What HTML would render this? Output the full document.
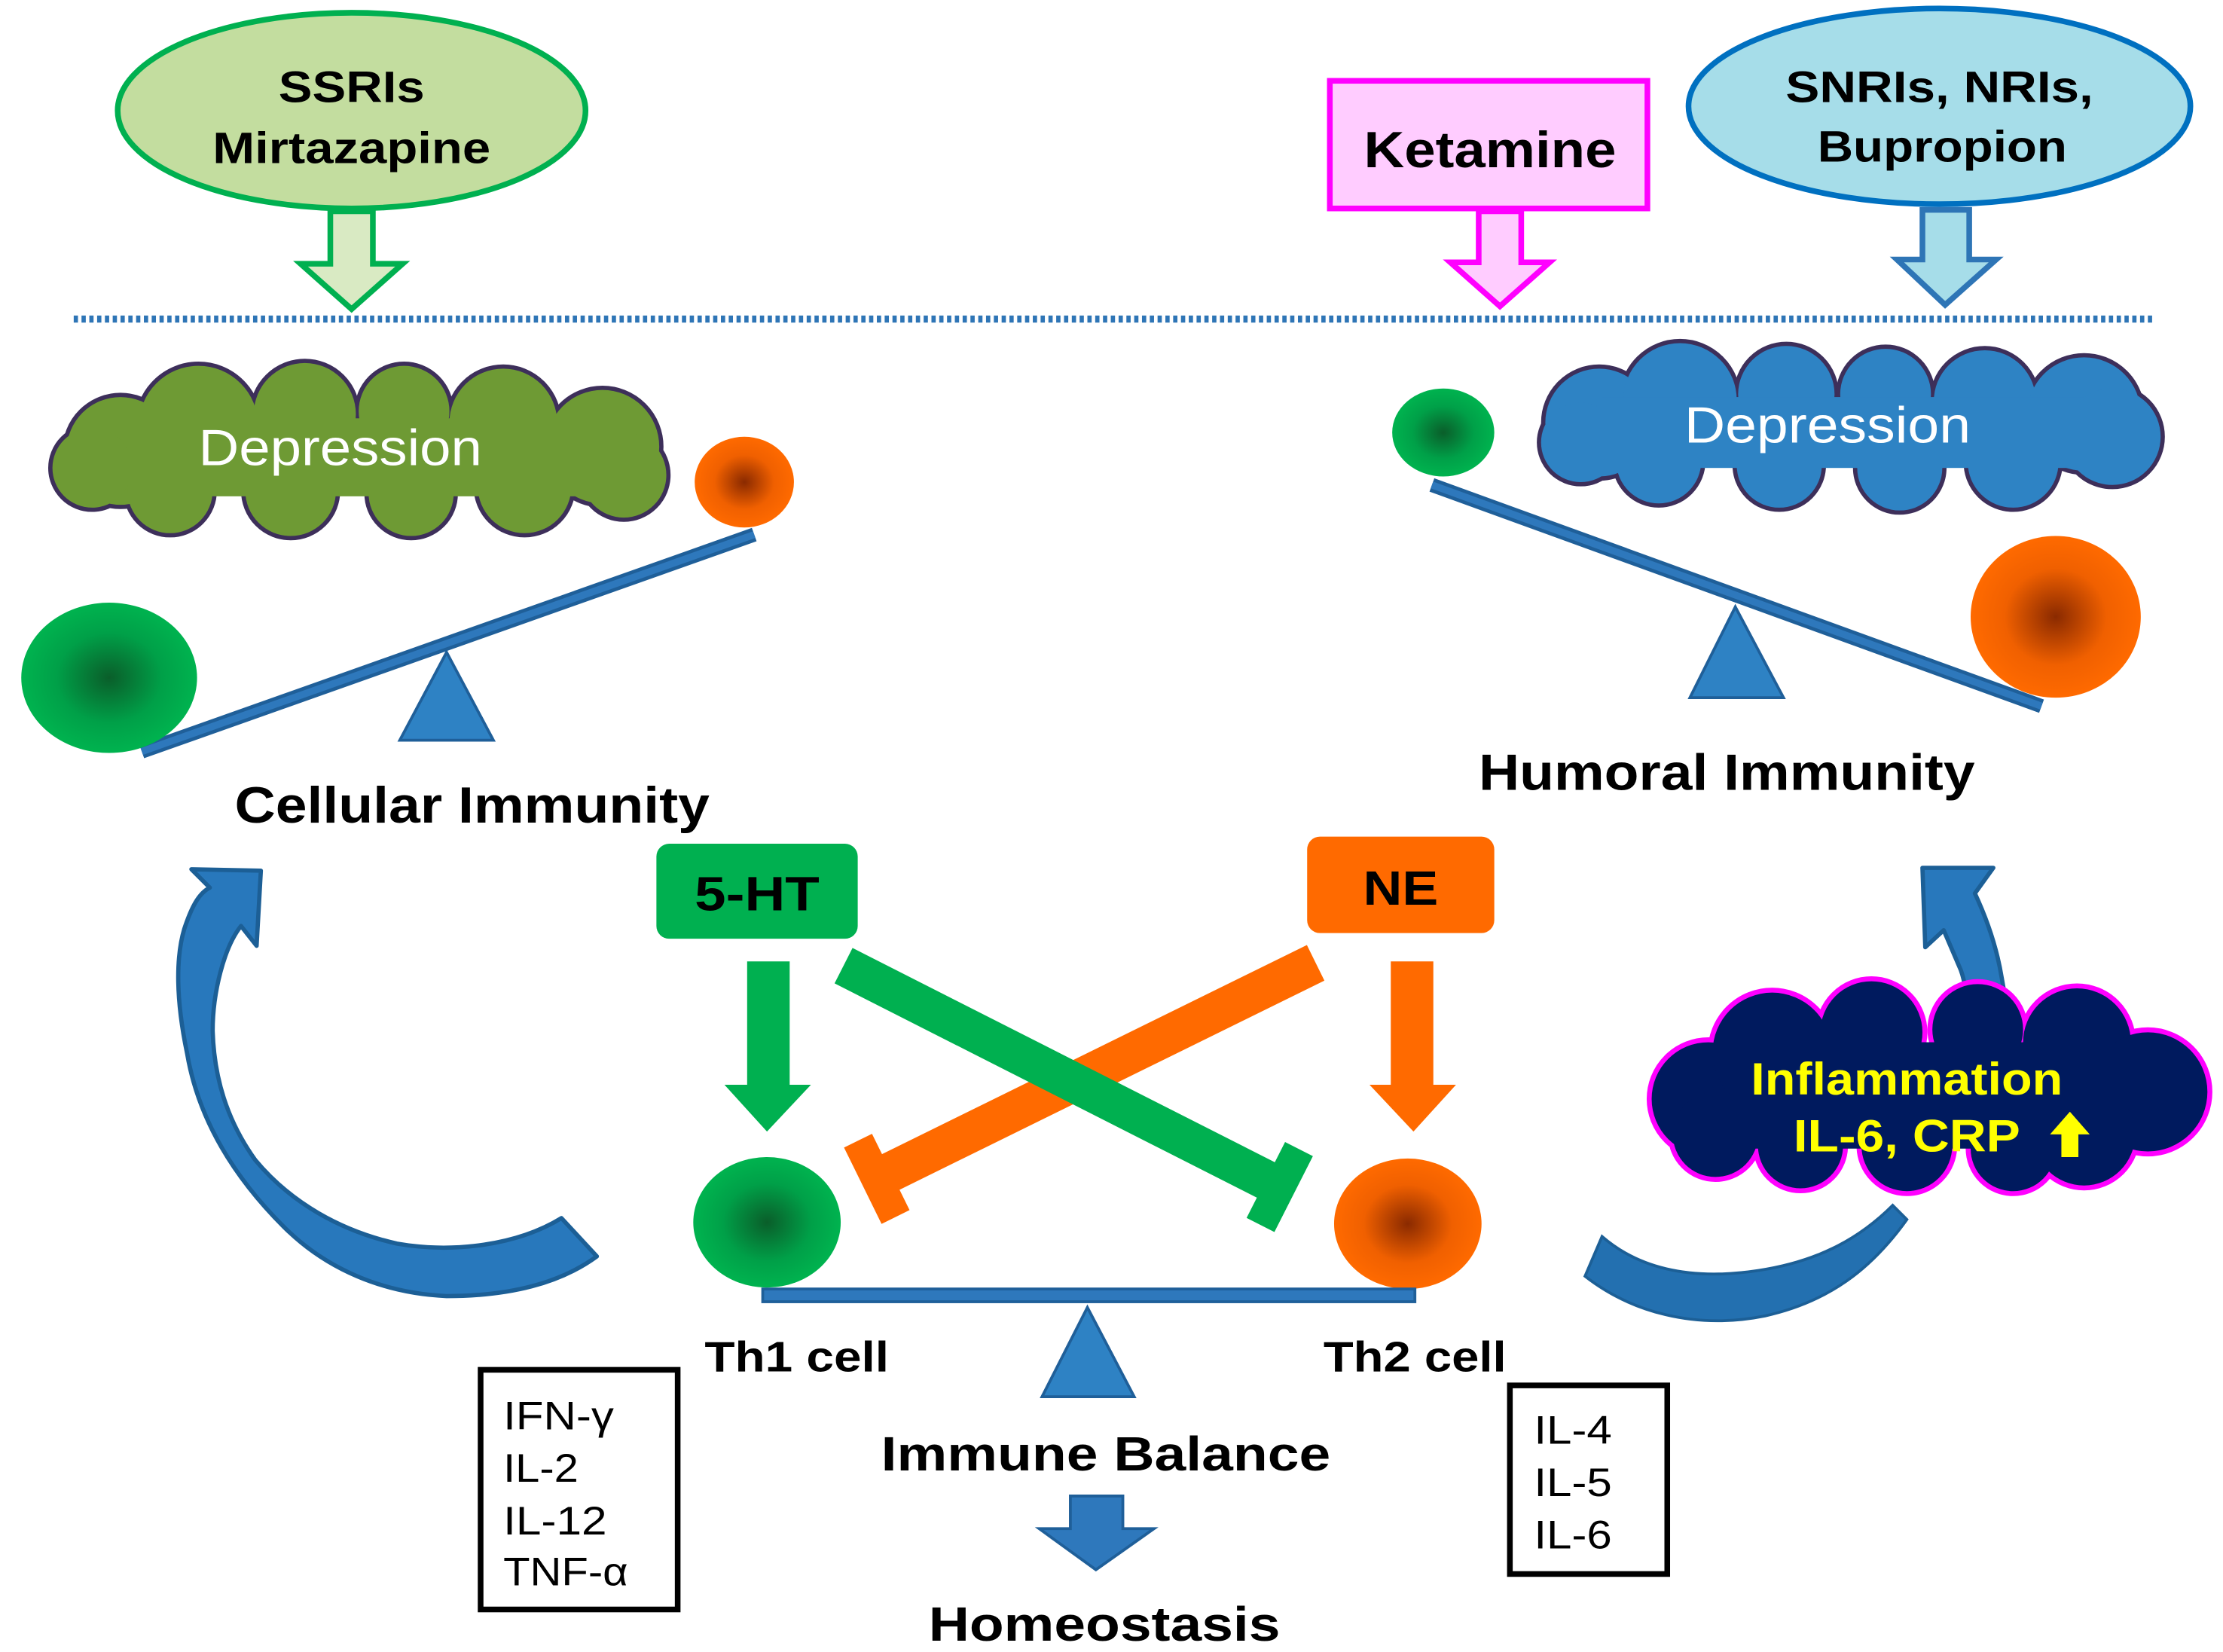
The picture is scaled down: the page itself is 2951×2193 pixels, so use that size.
<!DOCTYPE html>
<html><head><meta charset="utf-8"><style>
html,body{margin:0;padding:0;background:#fff;}
svg{display:block;}
text{font-family:"Liberation Sans",Arial,sans-serif;}
</style></head><body>
<svg width="2951" height="2193" viewBox="0 0 1568 1165" preserveAspectRatio="none" xmlns="http://www.w3.org/2000/svg">
<defs>
<radialGradient id="gG"><stop offset="0" stop-color="#0a5e2a"/><stop offset="0.6" stop-color="#00a048"/><stop offset="1" stop-color="#00b34f"/></radialGradient>
<radialGradient id="gO"><stop offset="0" stop-color="#8a2a00"/><stop offset="0.6" stop-color="#f06000"/><stop offset="1" stop-color="#ff6a00"/></radialGradient>
</defs>
<rect width="1568" height="1165" fill="#fff"/>

<!-- top drug nodes -->
<ellipse cx="248" cy="78" rx="165" ry="69" fill="#c3dd9f" stroke="#00b050" stroke-width="4"/>
<text x="248" y="72" font-size="31" font-weight="bold" text-anchor="middle" textLength="103" lengthAdjust="spacingAndGlyphs">SSRIs</text>
<text x="248" y="115" font-size="31" font-weight="bold" text-anchor="middle" textLength="196" lengthAdjust="spacingAndGlyphs">Mirtazapine</text>
<path d="M233 149 H263 V186 H284 L248 218 L212 186 H233 Z" fill="#d9eac3" stroke="#00b050" stroke-width="4" stroke-linejoin="miter"/>

<rect x="938" y="57" width="224" height="90" fill="#ffccff" stroke="#ff00ff" stroke-width="4"/>
<text x="1051" y="118" font-size="36" font-weight="bold" text-anchor="middle" textLength="178" lengthAdjust="spacingAndGlyphs">Ketamine</text>
<path d="M1043 149 H1073 V185 H1093 L1058 216 L1023 185 H1043 Z" fill="#ffccff" stroke="#ff00ff" stroke-width="4"/>

<ellipse cx="1368" cy="75" rx="177" ry="69" fill="#a6dde9" stroke="#0070c0" stroke-width="4"/>
<text x="1368" y="72" font-size="31" font-weight="bold" text-anchor="middle" textLength="217" lengthAdjust="spacingAndGlyphs">SNRIs, NRIs,</text>
<text x="1370" y="114" font-size="31" font-weight="bold" text-anchor="middle" textLength="176" lengthAdjust="spacingAndGlyphs">Bupropion</text>
<path d="M1356 148 H1389 V183 H1408 L1372 215 L1338 183 H1356 Z" fill="#a6dde9" stroke="#2e75b6" stroke-width="4"/>

<line x1="52" y1="225" x2="1520" y2="225" stroke="#2e75b6" stroke-width="5" stroke-dasharray="3 2.5"/>

<!-- green cloud -->
<g stroke="#3d2f5a" stroke-width="6" fill="#6e9a34">
<circle cx="85" cy="318" r="38"/><circle cx="140" cy="300" r="42"/><circle cx="215" cy="292" r="36"/><circle cx="285" cy="290" r="32"/><circle cx="355" cy="298" r="38"/><circle cx="425" cy="315" r="40"/><circle cx="440" cy="335" r="30"/><circle cx="370" cy="343" r="33"/><circle cx="290" cy="348" r="30"/><circle cx="205" cy="346" r="32"/><circle cx="120" cy="346" r="30"/><circle cx="65" cy="330" r="28"/>
</g>
<g fill="#6e9a34">
<circle cx="85" cy="318" r="38"/><circle cx="140" cy="300" r="42"/><circle cx="215" cy="292" r="36"/><circle cx="285" cy="290" r="32"/><circle cx="355" cy="298" r="38"/><circle cx="425" cy="315" r="40"/><circle cx="440" cy="335" r="30"/><circle cx="370" cy="343" r="33"/><circle cx="290" cy="348" r="30"/><circle cx="205" cy="346" r="32"/><circle cx="120" cy="346" r="30"/><circle cx="65" cy="330" r="28"/>
<rect x="90" y="295" width="340" height="55"/>
</g>
<text x="240" y="328" font-size="36" fill="#fff" text-anchor="middle" textLength="200" lengthAdjust="spacingAndGlyphs">Depression</text>

<!-- blue cloud -->
<g stroke="#3d2f5a" stroke-width="6" fill="#2e83c4">
<circle cx="1128" cy="298" r="38"/><circle cx="1185" cy="282" r="40"/><circle cx="1260" cy="278" r="34"/><circle cx="1330" cy="278" r="32"/><circle cx="1400" cy="283" r="36"/><circle cx="1470" cy="292" r="40"/><circle cx="1490" cy="308" r="34"/><circle cx="1420" cy="326" r="32"/><circle cx="1340" cy="330" r="30"/><circle cx="1255" cy="328" r="30"/><circle cx="1170" cy="325" r="30"/><circle cx="1115" cy="312" r="28"/>
</g>
<g fill="#2e83c4">
<circle cx="1128" cy="298" r="38"/><circle cx="1185" cy="282" r="40"/><circle cx="1260" cy="278" r="34"/><circle cx="1330" cy="278" r="32"/><circle cx="1400" cy="283" r="36"/><circle cx="1470" cy="292" r="40"/><circle cx="1490" cy="308" r="34"/><circle cx="1420" cy="326" r="32"/><circle cx="1340" cy="330" r="30"/><circle cx="1255" cy="328" r="30"/><circle cx="1170" cy="325" r="30"/><circle cx="1115" cy="312" r="28"/>
<rect x="1130" y="280" width="340" height="50"/>
</g>
<text x="1289" y="312" font-size="36" fill="#fff" text-anchor="middle" textLength="202" lengthAdjust="spacingAndGlyphs">Depression</text>

<!-- left seesaw -->
<polygon points="315,460 282,522 348,522" fill="#2e82c4" stroke="#1f5f99" stroke-width="2"/>
<line x1="100" y1="530" x2="532" y2="377" stroke="#1f5f99" stroke-width="10"/>
<line x1="100" y1="530" x2="532" y2="377" stroke="#2e78bc" stroke-width="5"/>
<ellipse cx="77" cy="478" rx="62" ry="53" fill="url(#gG)"/>
<ellipse cx="525" cy="340" rx="35" ry="32" fill="url(#gO)"/>
<text x="333" y="580" font-size="36" font-weight="bold" text-anchor="middle" textLength="335" lengthAdjust="spacingAndGlyphs">Cellular Immunity</text>

<!-- right seesaw -->
<polygon points="1224,428 1192,492 1258,492" fill="#2e82c4" stroke="#1f5f99" stroke-width="2"/>
<line x1="1010" y1="342" x2="1440" y2="498" stroke="#1f5f99" stroke-width="10"/>
<line x1="1010" y1="342" x2="1440" y2="498" stroke="#2e78bc" stroke-width="5"/>
<ellipse cx="1018" cy="305" rx="36" ry="31" fill="url(#gG)"/>
<ellipse cx="1450" cy="435" rx="60" ry="57" fill="url(#gO)"/>
<text x="1218" y="557" font-size="36" font-weight="bold" text-anchor="middle" textLength="350" lengthAdjust="spacingAndGlyphs">Humoral Immunity</text>

<!-- left curved arrow -->
<path d="M135,613 L184,614 L181,667 L170,653 C158,668 150,700 150,727 C151,760 160,790 180,818 C205,848 240,868 280,877 C320,884 365,878 396,859 L421,886 C395,905 360,914 315,914 C270,912 230,895 200,865 C165,830 140,790 132,743 C124,705 124,675 130,655 C135,640 140,630 148,626 Z" fill="#2878bc" stroke="#1c5f96" stroke-width="3" stroke-linejoin="round"/>

<!-- right curved arrow lower -->
<path d="M1130,872 C1160,898 1200,902 1240,896 C1280,890 1310,875 1335,850 L1345,860 C1320,895 1290,918 1245,928 C1195,938 1150,925 1118,900 Z" fill="#2370b0" stroke="#1c5f96" stroke-width="2"/>
<!-- right curved arrow upper -->
<path d="M1356,612 L1406,612 L1393,630 C1400,645 1408,665 1412,690 C1414,700 1415,710 1415,720 L1388,720 C1388,705 1386,692 1383,684 L1371,656 L1358,668 Z" fill="#2878bc" stroke="#1c5f96" stroke-width="3" stroke-linejoin="round"/>

<!-- inflammation cloud -->
<g stroke="#ff00ff" stroke-width="7" fill="#001a5e">
<circle cx="1205" cy="775" r="40"/><circle cx="1250" cy="742" r="42"/><circle cx="1320" cy="728" r="36"/><circle cx="1395" cy="726" r="32"/><circle cx="1465" cy="735" r="38"/><circle cx="1515" cy="770" r="42"/><circle cx="1470" cy="800" r="36"/><circle cx="1420" cy="810" r="30"/><circle cx="1345" cy="808" r="32"/><circle cx="1270" cy="808" r="30"/><circle cx="1210" cy="800" r="30"/>
</g>
<g fill="#001a5e">
<circle cx="1205" cy="775" r="40"/><circle cx="1250" cy="742" r="42"/><circle cx="1320" cy="728" r="36"/><circle cx="1395" cy="726" r="32"/><circle cx="1465" cy="735" r="38"/><circle cx="1515" cy="770" r="42"/><circle cx="1470" cy="800" r="36"/><circle cx="1420" cy="810" r="30"/><circle cx="1345" cy="808" r="32"/><circle cx="1270" cy="808" r="30"/><circle cx="1210" cy="800" r="30"/>
<rect x="1220" y="735" width="280" height="75"/>
</g>
<text x="1345" y="772" font-size="32" font-weight="bold" fill="#ffff00" text-anchor="middle" textLength="220" lengthAdjust="spacingAndGlyphs">Inflammation</text>
<text x="1345" y="812" font-size="32" font-weight="bold" fill="#ffff00" text-anchor="middle" textLength="160" lengthAdjust="spacingAndGlyphs">IL-6, CRP</text>
<polygon points="1460,784 1474,800 1466,800 1466,816 1454,816 1454,800 1446,800" fill="#ffff00"/>

<!-- 5-HT / NE boxes -->
<rect x="463" y="595" width="142" height="67" rx="9" fill="#00b050"/>
<text x="534" y="642" font-size="34" font-weight="bold" text-anchor="middle" textLength="88" lengthAdjust="spacingAndGlyphs">5-HT</text>
<rect x="922" y="590" width="132" height="68" rx="9" fill="#ff6a00"/>
<text x="988" y="638" font-size="34" font-weight="bold" text-anchor="middle" textLength="53" lengthAdjust="spacingAndGlyphs">NE</text>

<!-- straight arrows -->
<path d="M527 678 H557 V765 H572 L541 798 L511 765 H527 Z" fill="#00b050"/>
<path d="M981 678 H1011 V765 H1027 L997 798 L966 765 H981 Z" fill="#ff6a00"/>

<!-- inhibition arrows -->
<g transform="translate(928,679) rotate(153.8)">
<rect x="0" y="-14" width="338" height="28" fill="#ff6a00"/>
<rect x="334" y="-30" width="22" height="60" fill="#ff6a00"/>
</g>
<g transform="translate(595,681) rotate(26.9)">
<rect x="0" y="-14" width="338" height="28" fill="#00b050"/>
<rect x="334" y="-30" width="22" height="60" fill="#00b050"/>
</g>

<!-- Th cells -->
<ellipse cx="541" cy="862" rx="52" ry="46" fill="url(#gG)"/>
<ellipse cx="993" cy="863" rx="52" ry="46" fill="url(#gO)"/>
<rect x="538" y="909" width="460" height="9" fill="#2e78bc" stroke="#1f5f99" stroke-width="2"/>
<polygon points="767,922 735,985 800,985" fill="#2e82c4" stroke="#1f5f99" stroke-width="2"/>
<text x="562" y="967" font-size="30" font-weight="bold" text-anchor="middle" textLength="130" lengthAdjust="spacingAndGlyphs">Th1 cell</text>
<text x="998" y="967" font-size="30" font-weight="bold" text-anchor="middle" textLength="129" lengthAdjust="spacingAndGlyphs">Th2 cell</text>

<!-- cytokine boxes -->
<rect x="339" y="966" width="139" height="169" fill="#fff" stroke="#000" stroke-width="4"/>
<text x="355" y="1008" font-size="28" textLength="78" lengthAdjust="spacingAndGlyphs">IFN-γ</text>
<text x="355" y="1045" font-size="28" textLength="53" lengthAdjust="spacingAndGlyphs">IL-2</text>
<text x="355" y="1082" font-size="28" textLength="73" lengthAdjust="spacingAndGlyphs">IL-12</text>
<text x="355" y="1118" font-size="28" textLength="88" lengthAdjust="spacingAndGlyphs">TNF-α</text>
<rect x="1065" y="977" width="111" height="133" fill="#fff" stroke="#000" stroke-width="4"/>
<text x="1082" y="1018" font-size="28" textLength="55" lengthAdjust="spacingAndGlyphs">IL-4</text>
<text x="1082" y="1055" font-size="28" textLength="55" lengthAdjust="spacingAndGlyphs">IL-5</text>
<text x="1082" y="1092" font-size="28" textLength="55" lengthAdjust="spacingAndGlyphs">IL-6</text>

<text x="780" y="1037" font-size="34" font-weight="bold" text-anchor="middle" textLength="317" lengthAdjust="spacingAndGlyphs">Immune Balance</text>
<path d="M755 1055 H792 V1078 H814 L773 1107 L733 1078 H755 Z" fill="#2e78bc" stroke="#1f5f99" stroke-width="2"/>
<text x="779" y="1157" font-size="34" font-weight="bold" text-anchor="middle" textLength="248" lengthAdjust="spacingAndGlyphs">Homeostasis</text>
</svg>
</body></html>
